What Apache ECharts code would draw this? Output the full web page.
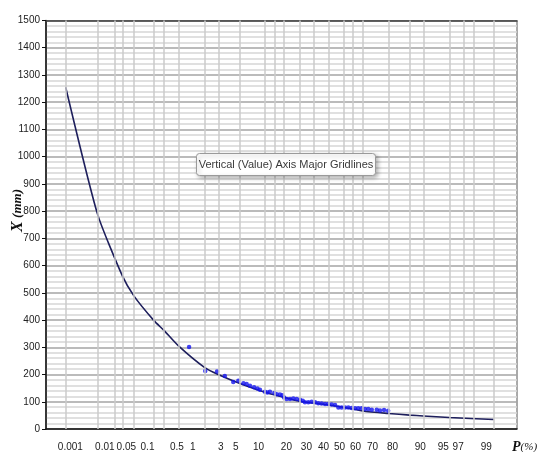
<!DOCTYPE html>
<html>
<head>
<meta charset="utf-8">
<script src="https://cdn.jsdelivr.net/npm/echarts@6/dist/echarts.min.js"></script>
<style>
  html, body { margin: 0; padding: 0; background: #fff; }
  #main { width: 537px; height: 452px; }
</style>
</head>
<body>
<div id="main"></div>
<script>
// tick labels of the probability axis (P, %)
const pLabels = [0.001, 0.01, 0.05, 0.1, 0.5, 1, 3, 5, 10, 20, 30, 40, 50, 60, 70, 80, 90, 95, 97, 99];
// vertical gridlines (P, %)
const pGrid = [0.001, 0.01, 0.03, 0.05, 0.1, 0.3, 0.5, 1, 3, 5, 10, 20, 25, 30, 40, 50, 60, 70, 75, 80, 90, 95, 97, 99, 99.5, 99.7, 99.9];

// fitted frequency curve
const curveP = [0.001, 0.01, 0.05, 0.1, 0.3, 0.5, 1, 3, 5, 10, 20, 30, 40, 50, 60, 70, 80, 90, 95, 97, 99, 99.9];
const curveX = [1255, 790, 562, 488, 398, 362, 305, 226, 200, 168, 135, 117, 102, 95, 88, 79, 66, 57, 51, 48, 42, 35];

// observed values
const obsP = [1.6, 3.1, 4.8, 6.3, 8.3, 9.7, 11.3, 12.4, 13.6, 15.2, 16.6, 17.7, 20.0, 21.2, 22.5, 24.8, 26.1, 28.0,
  29.4, 30.4, 32.0, 34.1, 36.2, 38.4, 40.6, 42.4, 43.9, 46.2, 48.5, 50.8, 53.0, 55.3, 57.6, 59.8, 62.0, 64.2,
  66.3, 68.3, 70.3, 72.3, 74.2, 76.0, 77.7, 79.4, 81.0, 82.5, 84.0, 86.0, 87.2, 88.6, 89.9];
const obsX = [301, 213, 211, 195, 173, 177, 168, 165, 159, 153, 149, 144, 137, 134, 137, 132, 128, 127,
  124, 116, 110, 110, 112, 110, 107, 104, 98, 98, 100, 98, 95, 94, 92, 92, 90, 88,
  79, 79, 79, 79, 77, 76, 76, 76, 73, 73, 71, 71, 68, 70, 67];

// inverse standard normal (Acklam) -> probability paper coordinate
function normInv(p) {
  var a = [-3.969683028665376e+01, 2.209460984245205e+02, -2.759285104469687e+02, 1.383577518672690e+02, -3.066479806614716e+01, 2.506628277459239e+00];
  var b = [-5.447609879822406e+01, 1.615858368580409e+02, -1.556989798598866e+02, 6.680131188771972e+01, -1.328068155288572e+01];
  var c = [-7.784894002430293e-03, -3.223964580411365e-01, -2.400758277161838e+00, -2.549671348321447e+00, 4.374664141464968e+00, 2.938163982698783e+00];
  var d = [7.784695709041462e-03, 3.224671290700398e-01, 2.445134137142996e+00, 3.754408661907416e+00];
  var pl = 0.02425, q, r;
  if (p < pl) {
    q = Math.sqrt(-2 * Math.log(p));
    return (((((c[0] * q + c[1]) * q + c[2]) * q + c[3]) * q + c[4]) * q + c[5]) / ((((d[0] * q + d[1]) * q + d[2]) * q + d[3]) * q + 1);
  }
  if (p > 1 - pl) {
    q = Math.sqrt(-2 * Math.log(1 - p));
    return -(((((c[0] * q + c[1]) * q + c[2]) * q + c[3]) * q + c[4]) * q + c[5]) / ((((d[0] * q + d[1]) * q + d[2]) * q + d[3]) * q + 1);
  }
  q = p - 0.5; r = q * q;
  return (((((a[0] * r + a[1]) * r + a[2]) * r + a[3]) * r + a[4]) * r + a[5]) * q / (((((b[0] * r + b[1]) * r + b[2]) * r + b[3]) * r + b[4]) * r + 1);
}
function z(p) { return normInv(p / 100); }

const labelZ = pLabels.map(z);
const FONT = '"Liberation Sans Narrow", "Liberation Sans", sans-serif';

var chart = echarts.init(document.getElementById('main'), null, { renderer: 'canvas' });

var option = {
  backgroundColor: '#fff',
  animation: false,
  grid: {
    left: 46, right: 20, top: 20.5, bottom: 22,
    show: true, borderColor: '#555', borderWidth: 1, backgroundColor: 'transparent'
  },
  xAxis: [{
    // data axis (probability paper)
    type: 'value', position: 'top',
    min: -4.603, max: 3.49,
    axisLine: { show: true, onZero: false, lineStyle: { color: '#444', width: 1.5 } },
    axisTick: { show: false }, axisLabel: { show: false }, splitLine: { show: false }
  }, {
    // label axis
    type: 'value', position: 'bottom',
    min: -4.651, max: 2.813,
    axisLine: { show: true, onZero: false, lineStyle: { color: '#111', width: 1.5 } },
    axisTick: { show: false },
    splitLine: { show: false },
    axisLabel: {
      customValues: labelZ,
      margin: 13,
      color: '#222',
      fontSize: 10,
      fontFamily: FONT,
      formatter: function (v) {
        var best = 0;
        for (var i = 1; i < labelZ.length; i++) {
          if (Math.abs(labelZ[i] - v) < Math.abs(labelZ[best] - v)) best = i;
        }
        var t = String(pLabels[best]);
        if (t === '0.05') return '{l|' + t + '}';
        if (t === '0.1') return '{r|' + t + '}';
        return t;
      },
      rich: {
        l: { fontSize: 10, fontFamily: FONT, color: '#222', padding: [0, 11, 0, 0] },
        r: { fontSize: 10, fontFamily: FONT, color: '#222', padding: [0, 0, 0, 6] }
      }
    }
  }],
  yAxis: {
    type: 'value', min: 0, max: 1500, interval: 100,
    axisLine: { show: true, onZero: false, lineStyle: { color: '#111', width: 1.5 } },
    axisTick: { show: true, inside: false, length: 4, lineStyle: { color: '#111' } },
    axisLabel: {
      margin: 6, color: '#222', fontSize: 10, fontFamily: FONT,
      formatter: function (v) { return String(v); }
    },
    splitLine: { show: true, lineStyle: { color: '#a4a4a4', width: 1.5 } },
    minorTick: { show: false, splitNumber: 5 },
    minorSplitLine: { show: true, lineStyle: { color: '#d6d6d6', width: 1.5 } }
  },
  graphic: [
    {
      type: 'text', left: 10, top: 189, rotation: Math.PI / 2, z: 100,
      style: {
        text: '{a|X} {b|(mm)}',
        rich: {
          a: { fontFamily: '"Liberation Serif", serif', fontWeight: 'bold', fontStyle: 'italic', fontSize: 16, fill: '#111' },
          b: { fontFamily: '"Liberation Serif", serif', fontWeight: 'bold', fontStyle: 'italic', fontSize: 13, fill: '#111' }
        }
      }
    },
    {
      type: 'text', left: 512, top: 440, z: 100,
      style: {
        text: '{a|P}{b|(%)}',
        rich: {
          a: { fontFamily: '"Liberation Serif", serif', fontWeight: 'bold', fontStyle: 'italic', fontSize: 14, fill: '#111' },
          b: { fontFamily: '"Liberation Serif", serif', fontStyle: 'italic', fontSize: 11, fill: '#111' }
        }
      }
    },
    {
      type: 'group', left: 196, top: 153, z: 100,
      children: [
        {
          type: 'rect', shape: { x: 0, y: 0, width: 179, height: 22, r: 3 }, z: 100,
          style: { fill: '#fff', stroke: '#9a9a9a', lineWidth: 1, shadowBlur: 4, shadowColor: 'rgba(0,0,0,0.3)', shadowOffsetX: 2, shadowOffsetY: 2 }
        },
        {
          type: 'text', x: 89.5, y: 11, z: 101,
          style: {
            text: 'Vertical (Value) Axis Major Gridlines',
            align: 'center', verticalAlign: 'middle',
            font: '11px ' + FONT, fill: '#3a3a3a'
          }
        }
      ]
    }
  ],
  series: [
    {
      // vertical gridlines
      type: 'line', xAxisIndex: 0, data: [], silent: true, z: 1,
      markLine: {
        silent: true, symbol: 'none', animation: false,
        label: { show: false },
        lineStyle: { color: '#cbcbcb', width: 1.5, type: 'solid' },
        data: pGrid.map(function (p) { return { xAxis: z(p) }; })
      }
    },
    {
      name: 'curve', type: 'line', xAxisIndex: 0,
      data: curveP.map(function (p, i) { return [z(p), curveX[i]]; }),
      showSymbol: false, smooth: 0.2,
      lineStyle: { color: '#1e1f5c', width: 1.6 },
      z: 3
    },
    {
      name: 'observed', type: 'scatter', xAxisIndex: 0,
      data: obsP.map(function (p, i) { return [z(p), obsX[i]]; }),
      symbol: 'circle', symbolSize: 4.5,
      itemStyle: { color: '#1414f0' },
      z: 4
    }
  ]
};

chart.setOption(option);
</script>
</body>
</html>
